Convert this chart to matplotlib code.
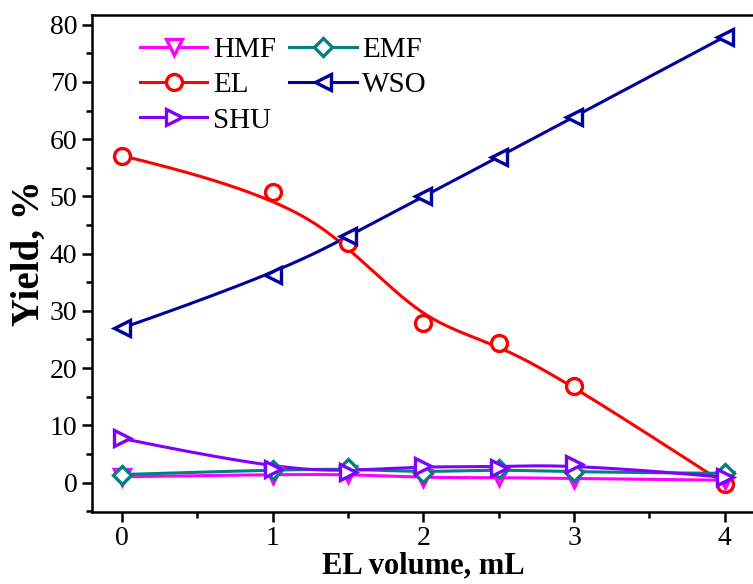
import numpy as np
import matplotlib.pyplot as plt
from matplotlib.ticker import MultipleLocator

# Data ----------------------------------------------------------------------
volume = [0, 1, 1.5, 2, 2.5, 3, 4]          # EL volume, mL
hmf = [1.0, 1.4, 1.5, 0.8, 0.9, 0.7, 0.4]
emf = [1.4, 2.2, 2.5, 1.7, 2.4, 1.8, 1.6]
el = [57.1, 50.8, 41.8, 27.9, 24.4, 16.9, -0.2]
wso = [27.0, 36.2, 43.0, 50.0, 56.9, 63.9, 77.9]
shu = [7.7, 2.3, 1.9, 2.9, 2.6, 3.3, 0.9]


def bspline(x, y, n=300):
    '''Clamped cubic B-spline with the data points as control points
    (the smooth "B-spline" connection used by the original plot)'''
    P = np.column_stack([x, y]).astype(float)
    k = len(P)
    knots = np.concatenate([[0] * 3, np.arange(k - 2), [k - 3] * 3]).astype(float)
    t = np.linspace(0, k - 3, n)
    t[-1] -= 1e-9
    # Cox-de Boor recursion
    B = np.array([(t >= knots[i]) & (t < knots[i + 1]) for i in range(len(knots) - 1)],
                 dtype=float)
    for d in range(1, 4):
        Bn = np.zeros((len(knots) - 1 - d, n))
        for i in range(len(knots) - 1 - d):
            left = knots[i + d] - knots[i]
            right = knots[i + d + 1] - knots[i + 1]
            if left > 0:
                Bn[i] += (t - knots[i]) / left * B[i]
            if right > 0:
                Bn[i] += (knots[i + d + 1] - t) / right * B[i + 1]
        B = Bn
    curve = B.T @ P
    return curve[:, 0], curve[:, 1]


plt.rcParams['font.family'] = ['Liberation Serif', 'DejaVu Serif']

fig = plt.figure(figsize=(7.53, 5.84), dpi=100)
ax = fig.add_axes([0.1222, 0.1238, 0.8802, 0.8505])

series = [
    ('EL', el, '#FF0000', 'o'),
    ('WSO', wso, '#00009C', '<'),
    ('HMF', hmf, '#FF00FF', 'v'),
    ('EMF', emf, '#008080', 'D'),
    ('SHU', shu, '#8000FF', '>'),
]

handles = {}
for name, vals, col, mk in series:
    xs, ys = bspline(volume, vals)
    ax.plot(xs, ys, color=col, lw=2.2, zorder=2)
    ms = 9 if mk == 'D' else 11.5
    ax.plot(volume, vals, ls='none', marker=mk, ms=ms, mfc='white',
            mec=col, mew=2.4, zorder=3)
    handles[name] = plt.Line2D([], [], color=col, lw=2.2, marker=mk, ms=ms,
                               mfc='white', mec=col, mew=2.4)

order = ['HMF', 'EL', 'SHU', 'EMF', 'WSO']
ax.legend([handles[k] for k in order], order, ncol=2, frameon=False,
          loc='upper left', bbox_to_anchor=(0.04, 1.0), fontsize=21,
          handlelength=2.3, columnspacing=0.45, handletextpad=0.2,
          labelspacing=0.3, borderaxespad=0.35)

ax.set_xlim(-0.2, 4.2)
ax.set_ylim(-5.1, 81.7)
ax.xaxis.set_major_locator(MultipleLocator(1))
ax.xaxis.set_minor_locator(MultipleLocator(0.5))
ax.yaxis.set_major_locator(MultipleLocator(10))
ax.yaxis.set_minor_locator(MultipleLocator(5))

ax.tick_params(which='both', direction='out', width=1.8, labelsize=20)
ax.tick_params(which='major', length=7)
ax.tick_params(which='minor', length=4)
for sp in ax.spines.values():
    sp.set_linewidth(1.8)

ax.set_xlabel('EL volume, mL', fontsize=22, fontweight='bold', labelpad=0)
ax.set_ylabel('Yield, %', fontsize=28, fontweight='bold')
ax.yaxis.set_label_coords(-0.066, 0.52)

fig.savefig('out.png', dpi=100)
